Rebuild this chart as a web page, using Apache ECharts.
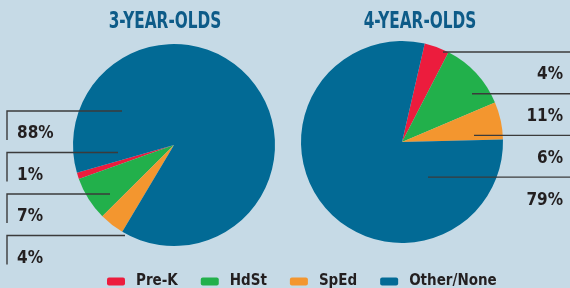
<!DOCTYPE html>
<html>
<head>
<meta charset="utf-8">
<script src="https://cdn.jsdelivr.net/npm/echarts@6/dist/echarts.min.js"></script>
<style>
html,body{margin:0;padding:0;background:#c6dae6;}
#c{width:570px;height:288px;}
</style>
</head>
<body>
<div id="c"></div>
<script>
const categories = ['Pre-K', 'HdSt', 'SpEd', 'Other/None'];
const titles = ['3-YEAR-OLDS', '4-YEAR-OLDS'];
const values3 = [1, 7, 4, 88];
const values4 = [4, 11, 6, 79];
const colors = ['#ec1c3d', '#22b04b', '#f3962f', '#026a95'];

const FONT = '"Liberation Sans Narrow", "DejaVu Sans Condensed", "Roboto", sans-serif';

// label slot order (top to bottom) for each pie, by data index
const slotLeft = [1, 2, 3, 0];
const slotRight = [0, 1, 2, 3];
const innerLeft = [122, 118, 110, 125];
const innerRight = [443, 472, 474, 428];

function layoutLeft(p) {
  const s = slotLeft[p.dataIndex];
  const ly = 111 + s * 41.5;
  return {
    x: 17, y: ly + 23, align: 'left', verticalAlign: 'middle',
    labelLinePoints: [[7, ly + 29], [7, ly], [innerLeft[s], ly]]
  };
}
function layoutRight(p) {
  const s = slotRight[p.dataIndex];
  const ly = 52 + s * 41.7;
  return {
    x: 563, y: ly + 23, align: 'right', verticalAlign: 'middle',
    labelLinePoints: [[570, ly], [innerRight[s], ly]]
  };
}

function mkPie(vals, center, startAngle, clockwise) {
  return {
    type: 'pie',
    radius: 101,
    center: center,
    startAngle: startAngle,
    clockwise: clockwise,
    silent: true,
    animation: false,
    z: 2,
    data: categories.map((n, i) => ({ name: n, value: vals[i], itemStyle: { color: colors[i] } })),
    label: { show: false },
    labelLine: { show: false }
  };
}
// transparent overlay pie carrying the labels so that leader lines sit on top of the slices
function mkLabels(vals, center, startAngle, clockwise, layout) {
  return {
    type: 'pie',
    radius: 101,
    center: center,
    startAngle: startAngle,
    clockwise: clockwise,
    silent: true,
    animation: false,
    z: 5,
    itemStyle: { color: 'rgba(0,0,0,0)' },
    data: categories.map((n, i) => ({ name: n, value: vals[i] })),
    label: {
      show: true, position: 'outside', formatter: '{c}%', overflow: 'none', width: 60,
      fontFamily: FONT, fontSize: 17, fontWeight: 'bold', color: '#231f20'
    },
    labelLine: { show: true, smooth: false, lineStyle: { color: '#3b3b3b', width: 1.4 } },
    labelLayout: layout
  };
}

function titleText(t, x) {
  return {
    type: 'text', x: x, y: 22, scaleX: 0.74,
    style: { text: t, x: 0, y: 0, align: 'center', verticalAlign: 'middle',
      font: 'bold 23px "DejaVu Sans Condensed", sans-serif', fill: '#0d5b88' }
  };
}

const chart = echarts.init(document.getElementById('c'), null, { renderer: 'canvas' });
chart.setOption({
  backgroundColor: '#c6dae6',
  animation: false,
  graphic: [titleText(titles[0], 165), titleText(titles[1], 420)],
  legend: {
    data: categories.map((n, i) => ({ name: n, itemStyle: { color: colors[i] } })),
    left: 102, top: 269,
    itemWidth: 18, itemHeight: 8, itemGap: 23,
    icon: 'roundRect',
    selectedMode: false,
    textStyle: { fontFamily: FONT, fontSize: 15, fontWeight: 'bold', color: '#231f20', padding: [0, 0, 0, 6] }
  },
  series: [
    mkPie(values3, [174, 145], 196, false),
    mkPie(values4, [402, 142], 77, true),
    mkLabels(values3, [174, 145], 196, false, layoutLeft),
    mkLabels(values4, [402, 142], 77, true, layoutRight)
  ]
});
</script>
</body>
</html>
